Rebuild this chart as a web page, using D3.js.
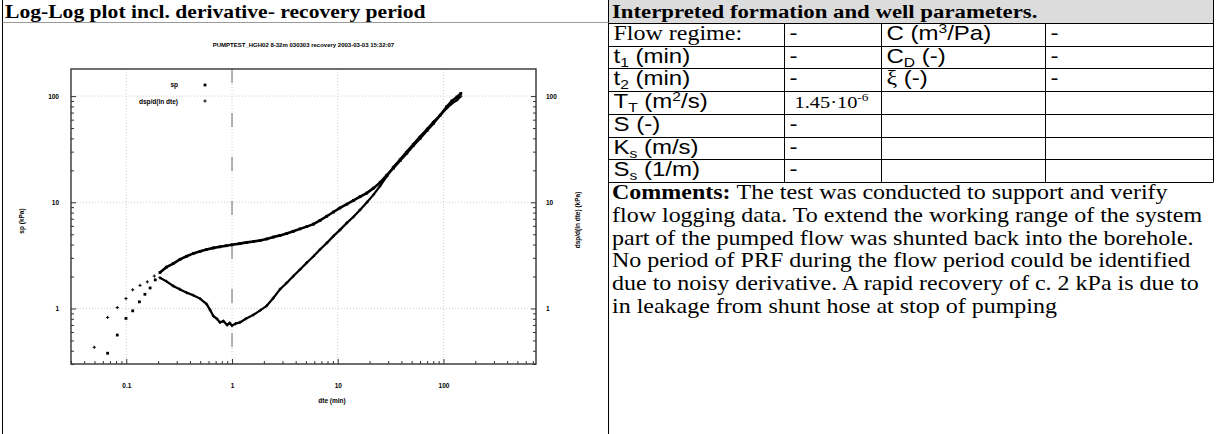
<!DOCTYPE html>
<html>
<head>
<meta charset="utf-8">
<script src="https://cdn.jsdelivr.net/npm/d3@7"></script>
<style>
body { margin: 0; background: #fff; overflow: hidden; }
</style>
</head>
<body>
<div id="chart"></div>
<script>
/* ---- data ---- */
var spTime = [0.0666, 0.0822, 0.0993, 0.115, 0.133, 0.150, 0.168, 0.188,
	0.208, 0.24, 0.278, 0.322, 0.372, 0.431, 0.5, 0.575, 0.67, 0.77, 0.88, 1.0,
	1.18, 1.38, 1.6, 1.84, 2.13, 2.46, 2.85, 3.29, 3.8, 4.4, 5.09, 5.89, 6.8, 7.87,
	9.1, 10.5, 12.2, 14.1, 16.3, 18.8, 21.8, 25.2, 29.1, 33.6, 39, 45, 52, 60.1,
	70, 80.4, 93, 107, 120, 134, 146];
var spValue = [0.379, 0.562, 0.806, 0.95, 1.155, 1.36, 1.56, 1.86,
	2.18, 2.45, 2.65, 2.90, 3.10, 3.30, 3.45, 3.60, 3.72, 3.81, 3.90, 3.98,
	4.08, 4.19, 4.28, 4.37, 4.52, 4.70, 4.88, 5.08, 5.33, 5.62, 5.90, 6.22, 6.75, 7.39,
	8.1, 8.85, 9.6, 10.4, 11.3, 12.2, 13.6, 15.4, 18.0, 21.0, 24.8, 29.0, 34.3, 40.1,
	47.5, 55.4, 66, 79.4, 90, 98, 106];

var derTime = [0.0498, 0.0666, 0.0822, 0.0993, 0.115, 0.135, 0.158, 0.184,
	0.208, 0.24, 0.278, 0.32, 0.372, 0.43, 0.498, 0.575, 0.62, 0.666, 0.72, 0.77,
	0.83, 0.9, 0.95, 1.0, 1.08, 1.19, 1.35, 1.59, 1.85, 2.13, 2.45, 2.85, 3.3, 3.81,
	4.4, 5.09, 5.9, 6.8, 7.9, 9.1, 10.5, 12.2, 14.1, 16.3, 18.9, 21.8, 25.2, 29.1,
	33.6, 39, 45, 52, 60, 70, 80.4, 93, 107, 118, 134, 146];
var derValue = [0.431, 0.824, 1.02, 1.24, 1.50, 1.65, 1.78, 2.02,
	1.95, 1.80, 1.63, 1.52, 1.41, 1.33, 1.24, 1.10, 0.97, 0.85, 0.80, 0.74,
	0.76, 0.70, 0.73, 0.69, 0.72, 0.74, 0.80, 0.87, 0.96, 1.06, 1.25, 1.52, 1.75, 2.02,
	2.33, 2.70, 3.10, 3.60, 4.15, 4.80, 5.5, 6.4, 7.3, 8.5, 10.0, 11.8, 14.3, 17.5,
	21.5, 25.5, 30.1, 35.5, 41.6, 49, 57.4, 66, 76.6, 84, 91.7, 100];

var xTickValues = [0.1, 1, 10, 100];
var yTickValues = [1, 10, 100];
var legendLabels = ["sp", "dsp/d(ln dte)"];
var plotTitle = "PUMPTEST_HGH02 8-32m 030303  recovery 2003-03-03 15:32:07";
var xTitle = "dte (min)";
var yTitleLeft = "sp (kPa)";
var yTitleRight = "dsp/d(ln dte) (kPa)";

var leftHeader = "Log-Log plot incl. derivative- recovery period";
var rightHeader = "Interpreted formation and well parameters.";

// cells as [text, kind] segments; kind: sans | serif | sub | sup
var paramLabelsA = [
	[["Flow regime:", "serif"]],
	[["t", "sans"], ["1", "sub"], [" (min)", "sans"]],
	[["t", "sans"], ["2", "sub"], [" (min)", "sans"]],
	[["T", "sans"], ["T", "sub"], [" (m", "sans"], ["2", "sup"], ["/s)", "sans"]],
	[["S (-)", "sans"]],
	[["K", "sans"], ["s", "sub"], [" (m/s)", "sans"]],
	[["S", "sans"], ["s", "sub"], [" (1/m)", "sans"]]
];
var paramValuesA = [
	[["-", "sans"]],
	[["-", "sans"]],
	[["-", "sans"]],
	[["1.45·10", "serif"], ["-6", "sup"]],
	[["-", "sans"]],
	[["-", "sans"]],
	[["-", "sans"]]
];
var paramLabelsB = [
	[["C (m", "sans"], ["3", "sup"], ["/Pa)", "sans"]],
	[["C", "sans"], ["D", "sub"], [" (-)", "sans"]],
	[["ξ", "serif"], [" (-)", "sans"]],
	[], [], [], []
];
var paramValuesB = [
	[["-", "sans"]],
	[["-", "sans"]],
	[["-", "sans"]],
	[], [], [], []
];
var commentHead = "Comments:";
var commentLines = [
	"The test was conducted to support and verify",
	"flow logging data. To extend the working range of the system",
	"part of the pumped flow was shunted back into the borehole.",
	"No period of PRF during the flow period could be identified",
	"due to noisy derivative. A rapid recovery of c. 2 kPa is due to",
	"in leakage from shunt hose at stop of pumping"
];

/* ---- layout ---- */
var width = 1216;
var height = 434;
var SX = 1.2; // the source page is stretched sideways
var SERIF = "'Liberation Serif', 'Times New Roman', serif";
var SANS = "'Liberation Sans', Arial, sans-serif";
var FS = 20;

var svg = d3.select("#chart").append("svg")
	.attr("width", width)
	.attr("height", height)
	.style("display", "block");

function richText(parent, x, y, segs, size, weight) {
	var t = parent.append("text")
		.attr("transform", `translate(${x},${y}) scale(${SX},1)`)
		.attr("font-size", size)
		.attr("font-weight", weight || "normal")
		.attr("fill", "#000");
	var fam = SANS, shift = 0;
	segs.forEach(function(s) {
		var sp = t.append("tspan").text(s[0]);
		if (s[1] === "sans" || s[1] === "serif") {
			fam = s[1] === "sans" ? SANS : SERIF;
			sp.attr("font-family", fam);
			if (shift) { sp.attr("dy", -shift); shift = 0; }
		} else if (s[1] === "sub") {
			sp.attr("font-family", fam).attr("font-size", size * 0.65).attr("dy", 4 - shift);
			shift = 4;
		} else {
			sp.attr("font-family", fam).attr("font-size", size * 0.65).attr("dy", -7 - shift);
			shift = -7;
		}
	});
	return t;
}

/* ---- frame of the two panels ---- */
var colX = [608.5, 784.5, 881.5, 1045.5, 1213.5];
var headH = 23;
var rowH = 22.7;
var rowY = d3.range(paramLabelsA.length + 1).map(i => headH + i * rowH);

svg.append("rect")
	.attr("x", 608.5).attr("y", 0)
	.attr("width", 1213.5 - 608.5).attr("height", headH)
	.attr("fill", "#dcdcdc");

var frame = svg.append("g")
	.attr("stroke", "#000")
	.attr("stroke-width", 1);

frame.append("line").attr("x1", 2.5).attr("x2", 2.5).attr("y1", 0).attr("y2", height);
frame.append("line").attr("x1", 608.5).attr("x2", 608.5).attr("y1", 0).attr("y2", height);
frame.append("line").attr("x1", 1213.5).attr("x2", 1213.5).attr("y1", 0).attr("y2", rowY[rowY.length - 1]);
frame.append("line").attr("x1", 2.5).attr("x2", 608.5).attr("y1", 22.5).attr("y2", 22.5)
	.attr("stroke", "#9a9a9a");

frame.selectAll(".hrow")
	.data(rowY).enter()
	.append("line")
	.attr("x1", 608.5).attr("x2", 1213.5)
	.attr("y1", d => Math.round(d) + 0.5)
	.attr("y2", d => Math.round(d) + 0.5);

frame.selectAll(".vcol")
	.data(colX.slice(1, 4)).enter()
	.append("line")
	.attr("x1", d => d).attr("x2", d => d)
	.attr("y1", headH).attr("y2", rowY[rowY.length - 1]);

/* ---- headers ---- */
richText(svg, 5, 18, [[leftHeader, "serif"]], 18, "bold");
richText(svg, 612, 18, [[rightHeader, "serif"]], 19, "bold");

/* ---- parameter table ---- */
var cols = [paramLabelsA, paramValuesA, paramLabelsB, paramValuesB];
cols.forEach(function(col, ci) {
	col.forEach(function(segs, ri) {
		if (!segs.length) return;
		var isValue = (ci % 2 === 1);
		var serifValue = isValue && segs[0][1] === "serif";
		richText(svg, colX[ci] + (serifValue ? 10 : 5), rowY[ri] + 17, segs, serifValue ? 17 : FS);
	});
});

/* ---- comments ---- */
var c0 = rowY[rowY.length - 1] + 17;
commentLines.forEach(function(line, i) {
	var segs = i === 0 ? [[commentHead + " ", "serif"], [line, "serif"]] : [[line, "serif"]];
	var t = richText(svg, 612, c0 + i * 22.8, segs, FS);
	if (i === 0) t.select("tspan").attr("font-weight", "bold");
});

/* ---- log-log plot ---- */
var pLeft = 71, pRight = 536, pTop = 69, pBottom = 364;
var xScale = d3.scaleLog().domain([0.03, 750]).range([pLeft, pRight]);
var yScale = d3.scaleLog().domain([0.3, 180]).range([pBottom, pTop]);

var plot = svg.append("g").attr("font-family", SANS).attr("font-weight", "bold");

// grid
plot.append("g").selectAll("line")
	.data(xTickValues).enter()
	.append("line")
	.attr("x1", d => xScale(d)).attr("x2", d => xScale(d))
	.attr("y1", pTop).attr("y2", pBottom)
	.attr("stroke", "#cfcfcf").attr("stroke-dasharray", "1,2");
plot.append("g").selectAll("line")
	.data(yTickValues).enter()
	.append("line")
	.attr("x1", pLeft).attr("x2", pRight)
	.attr("y1", d => yScale(d)).attr("y2", d => yScale(d))
	.attr("stroke", "#cfcfcf").attr("stroke-dasharray", "1,2");
// stop of pumping marker at dte = 1
plot.append("line")
	.attr("x1", xScale(1)).attr("x2", xScale(1))
	.attr("y1", pTop).attr("y2", pBottom)
	.attr("stroke", "#6a6a6a").attr("stroke-width", 1)
	.attr("stroke-dasharray", "14,30");

// axes with inward ticks
function logTicks(domain) {
	var out = [];
	for (var k = -3; k <= 3; k++) {
		for (var m = 1; m <= 9; m++) {
			var v = m * Math.pow(10, k);
			if (v >= domain[0] && v <= domain[1]) out.push(+v.toPrecision(3));
		}
	}
	return out;
}
var fmt = d => (yTickValues.indexOf(d) >= 0 || xTickValues.indexOf(d) >= 0) ? d3.format("~g")(d) : "";
function styleAxis(g, side) {
	g.select(".domain").remove();
	g.selectAll(".tick line")
		.attr("stroke", "#333")
		.each(function(d) {
			var major = Math.abs(Math.log10(d) - Math.round(Math.log10(d))) < 1e-6;
			var len = major ? 5 : 3;
			if (side === "bottom") d3.select(this).attr("y2", -len);
			if (side === "left") d3.select(this).attr("x2", len);
			if (side === "right") d3.select(this).attr("x2", -len);
		});
	g.selectAll(".tick text").attr("font-size", 6.5).attr("fill", "#000").attr("font-weight", "bold");
}

var xAxis = d3.axisBottom(xScale).tickValues(logTicks(xScale.domain())).tickFormat(fmt)
	.tickSizeInner(-3).tickSizeOuter(0).tickPadding(19);
plot.append("g").attr("transform", `translate(0,${pBottom})`).call(xAxis)
	.call(g => styleAxis(g, "bottom"));

var yAxisL = d3.axisLeft(yScale).tickValues(logTicks(yScale.domain())).tickFormat(fmt)
	.tickSizeInner(-3).tickSizeOuter(0).tickPadding(12);
plot.append("g").attr("transform", `translate(${pLeft},0)`).call(yAxisL)
	.call(g => styleAxis(g, "left"));

var yAxisR = d3.axisRight(yScale).tickValues(logTicks(yScale.domain())).tickFormat(fmt)
	.tickSizeInner(-3).tickSizeOuter(0).tickPadding(10);
plot.append("g").attr("transform", `translate(${pRight},0)`).call(yAxisR)
	.call(g => styleAxis(g, "right"));

// plot border
plot.append("rect")
	.attr("x", pLeft).attr("y", pTop)
	.attr("width", pRight - pLeft).attr("height", pBottom - pTop)
	.attr("fill", "none").attr("stroke", "#333").attr("stroke-width", 1.4);

// series
var spData = spTime.map((t, i) => ({t: t, v: spValue[i]}));
var derData = derTime.map((t, i) => ({t: t, v: derValue[i]}));

var line = d3.line()
	.x(d => xScale(d.t))
	.y(d => yScale(d.v));

plot.append("path")
	.attr("d", line(derData.filter(d => d.t >= 0.2)))
	.attr("fill", "none").attr("stroke", "#000").attr("stroke-width", 2.2);
plot.append("path")
	.attr("d", line(spData.filter(d => d.t >= 0.2)))
	.attr("fill", "none").attr("stroke", "#000").attr("stroke-width", 2.6);

plot.append("g").selectAll("rect")
	.data(spData).enter()
	.append("rect")
	.attr("x", d => xScale(d.t) - 1.4).attr("y", d => yScale(d.v) - 1.4)
	.attr("width", 2.8).attr("height", 2.8)
	.attr("fill", "#000");

plot.append("g").selectAll("path")
	.data(derData).enter()
	.append("path")
	.attr("transform", d => `translate(${xScale(d.t)},${yScale(d.v)})`)
	.attr("d", "M-1.6,0H1.6M0,-1.6V1.6")
	.attr("stroke", "#000").attr("stroke-width", 1);

// legend
var legend = plot.append("g");
legend.selectAll("text")
	.data(legendLabels).enter()
	.append("text")
	.attr("x", 178).attr("y", (d, i) => 87 + i * 17)
	.attr("text-anchor", "end")
	.attr("font-size", 6.5)
	.text(d => d);
legend.append("rect").attr("x", 203.6).attr("y", 83.6).attr("width", 2.8).attr("height", 2.8).attr("fill", "#000");
legend.append("path").attr("transform", "translate(205,101)")
	.attr("d", "M-1.6,0H1.6M0,-1.6V1.6").attr("stroke", "#000");

// titles
plot.append("text")
	.attr("x", (pLeft + pRight) / 2).attr("y", 47)
	.attr("text-anchor", "middle").attr("font-size", 6)
	.text(plotTitle);
plot.append("text")
	.attr("x", 332).attr("y", 403)
	.attr("text-anchor", "middle").attr("font-size", 6.5)
	.text(xTitle);
plot.append("text")
	.attr("transform", "translate(24,221) rotate(-90)")
	.attr("text-anchor", "middle").attr("font-size", 6.5)
	.text(yTitleLeft);
plot.append("text")
	.attr("transform", "translate(580,220) rotate(-90)")
	.attr("text-anchor", "middle").attr("font-size", 6.5)
	.text(yTitleRight);
</script>
</body>
</html>
